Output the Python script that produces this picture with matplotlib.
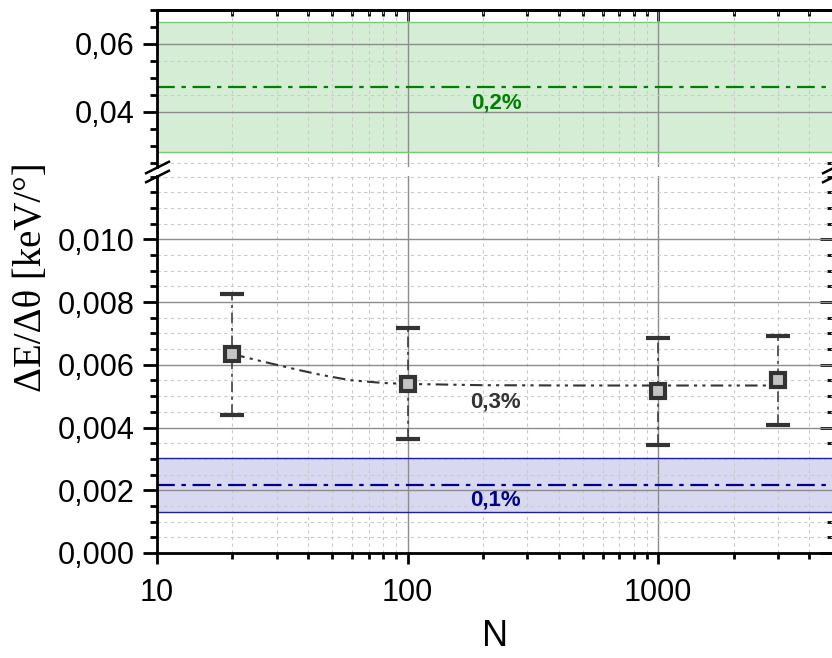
import numpy as np
import matplotlib
matplotlib.use("Agg")
import matplotlib.pyplot as plt
from matplotlib.ticker import FixedLocator, LogLocator, FuncFormatter, MultipleLocator, NullFormatter

# measured points
N = [20, 100, 1000, 3000]
dE = [0.00634, 0.00540, 0.00515, 0.00550]
dE_err = [0.00193, 0.00176, 0.00170, 0.00141]

# fit curve
fit_N = [20, 25, 30, 37, 45, 59, 80, 100, 200, 500, 1000, 3000]
fit_dE = [0.00634, 0.00615, 0.00600, 0.00583, 0.00568, 0.00551, 0.00542,
          0.00539, 0.00535, 0.00534, 0.00534, 0.00534]

# reference bands: (center, low, high)
band_02 = (0.0474, 0.0282, 0.0665)
band_01 = (0.00217, 0.00131, 0.00304)

bot_ticks = [0.000, 0.002, 0.004, 0.006, 0.008, 0.010]
top_ticks = [0.04, 0.06]
x_ticks = [10, 100, 1000]

plt.rcParams['font.family'] = ['Liberation Sans', 'DejaVu Sans']

W, H = 832, 658
fig = plt.figure(figsize=(W / 100, H / 100), dpi=100)

def px_axes(left, top, right, bottom):
    return fig.add_axes([left / W, 1 - bottom / H, (right - left) / W, (bottom - top) / H])

ax_top = px_axes(157, 10, 833.5, 167)
ax_bot = px_axes(157, 176, 833.5, 553)

major_grid = dict(color='#8c8c8c', lw=1.0, ls='-')
minor_grid = dict(color='#cacaca', lw=0.8, ls=(0, (3, 3)))

for ax in (ax_top, ax_bot):
    ax.set_xscale('log')
    ax.set_xlim(10, 5000)
    ax.set_axisbelow(True)
    ax.xaxis.set_major_locator(FixedLocator(x_ticks))
    ax.xaxis.set_minor_locator(LogLocator(base=10, subs=np.arange(2, 10)))
    ax.xaxis.set_minor_formatter(NullFormatter())
    ax.grid(True, which='major', axis='x', **major_grid)
    ax.grid(True, which='minor', axis='x', **minor_grid)
    for s in ax.spines.values():
        s.set_linewidth(2)
    ax.tick_params(axis='y', which='major', direction='out', length=10, width=2,
                   labelsize=22, pad=6, right=False)
    ax.tick_params(axis='y', which='minor', direction='out', length=5, width=2, right=False)

# upper panel
ax_top.set_ylim(0.0238, 0.07)
ax_top.yaxis.set_major_locator(FixedLocator(top_ticks))
ax_top.yaxis.set_minor_locator(MultipleLocator(0.005))
ax_top.yaxis.set_major_formatter(FuncFormatter(lambda v, p: f'{v:.2f}'.replace('.', ',')))
ax_top.grid(True, which='major', axis='y', **major_grid)
for yv in (0.055, 0.045, 0.025):
    ax_top.axhline(yv, zorder=0.6, **minor_grid)
ax_top.spines['bottom'].set_visible(False)
ax_top.tick_params(axis='x', which='both', bottom=False, top=False, labelbottom=False)

c, lo, hi = band_02
ax_top.axhspan(lo, hi, facecolor='#d5edd5', edgecolor='none', zorder=0.3)
ax_top.axhline(lo, color='#78c878', lw=1.0, zorder=1)
ax_top.axhline(hi, color='#78c878', lw=1.0, zorder=1)
ax_top.axhline(c, color='#008000', lw=1.6, ls=(0, (8, 3, 2, 3)), zorder=2)
ax_top.text(227, 0.0426, '0,2%', color='#008000', fontsize=16, fontweight='bold',
            ha='center', va='center')

sec = ax_top.secondary_xaxis('top')
sec.xaxis.set_major_locator(FixedLocator(x_ticks))
sec.xaxis.set_minor_locator(LogLocator(base=10, subs=np.arange(2, 10)))
sec.tick_params(which='major', direction='in', length=8, width=2, labeltop=False)
sec.tick_params(which='minor', direction='in', length=4, width=2)
sec.spines['top'].set_linewidth(2)

# lower panel
ax_bot.set_ylim(0, 0.01202)
ax_bot.yaxis.set_major_locator(FixedLocator(bot_ticks))
ax_bot.yaxis.set_minor_locator(MultipleLocator(0.0005))
ax_bot.yaxis.set_major_formatter(FuncFormatter(lambda v, p: f'{v:.3f}'.replace('.', ',')))
ax_bot.grid(True, which='major', axis='y', **major_grid)
ax_bot.grid(True, which='minor', axis='y', **minor_grid)
ax_bot.spines['top'].set_visible(False)
ax_bot.tick_params(axis='x', which='major', direction='out', length=8, width=2,
                   labelsize=22, pad=10, top=False)
ax_bot.tick_params(axis='x', which='minor', direction='out', length=4, width=2, top=False)
ax_bot.xaxis.set_major_formatter(FuncFormatter(lambda v, p: f'{v:.0f}'))

c, lo, hi = band_01
ax_bot.axhspan(lo, hi, facecolor='#d8d8f0', edgecolor='none', zorder=0.3)
ax_bot.axhline(lo, color='#1e1ea0', lw=1.0, zorder=1)
ax_bot.axhline(hi, color='#1e1ea0', lw=1.0, zorder=1)
ax_bot.axhline(c, color='#00008c', lw=1.6, ls=(0, (8, 3, 2, 3)), zorder=2)
ax_bot.text(223, 0.00169, '0,1%', color='#00008c', fontsize=16, fontweight='bold',
            ha='center', va='center')

ax_bot.plot(fit_N, fit_dE, color='#333333', lw=1.5, ls=(0, (6, 2.5, 1.5, 2.5, 1.5, 2.5)), zorder=3)
eb = ax_bot.errorbar(N, dE, yerr=dE_err, fmt='s', ms=10, mew=3, mec='#333333', mfc='#c4c4c4',
                     ecolor='#333333', elinewidth=1.1, capsize=8.5, capthick=1.1, zorder=4)
eb[2][0].set_linestyle((0, (7, 3, 2, 3)))
ax_bot.text(223, 0.00481, '0,3%', color='#333333', fontsize=16, fontweight='bold',
            ha='center', va='center')

for ax in (ax_top, ax_bot):
    sy = ax.secondary_yaxis('right')
    sy.yaxis.set_major_locator(ax.yaxis.get_major_locator())
    sy.yaxis.set_minor_locator(ax.yaxis.get_minor_locator())
    sy.tick_params(which='major', direction='in', length=10, width=2, labelright=False)
    sy.tick_params(which='minor', direction='in', length=5, width=2)

# axis break marks
brk = dict(marker=[(-1, -0.5), (1, 0.5)], markersize=18, linestyle='none',
           color='k', mec='k', mew=1.8, clip_on=False)
ax_top.plot([0, 1], [0, 0], transform=ax_top.transAxes, **brk)
ax_bot.plot([0, 1], [1, 1], transform=ax_bot.transAxes, **brk)

fig.text(495 / W, 1 - 637 / H, 'N', fontsize=26, ha='center', va='center')
fig.text(32 / W, 1 - 277 / H, 'ΔE/Δθ [keV/°]', fontsize=28, family='Liberation Serif',
         rotation=90, ha='center', va='center')

fig.savefig('out.png', dpi=100)
